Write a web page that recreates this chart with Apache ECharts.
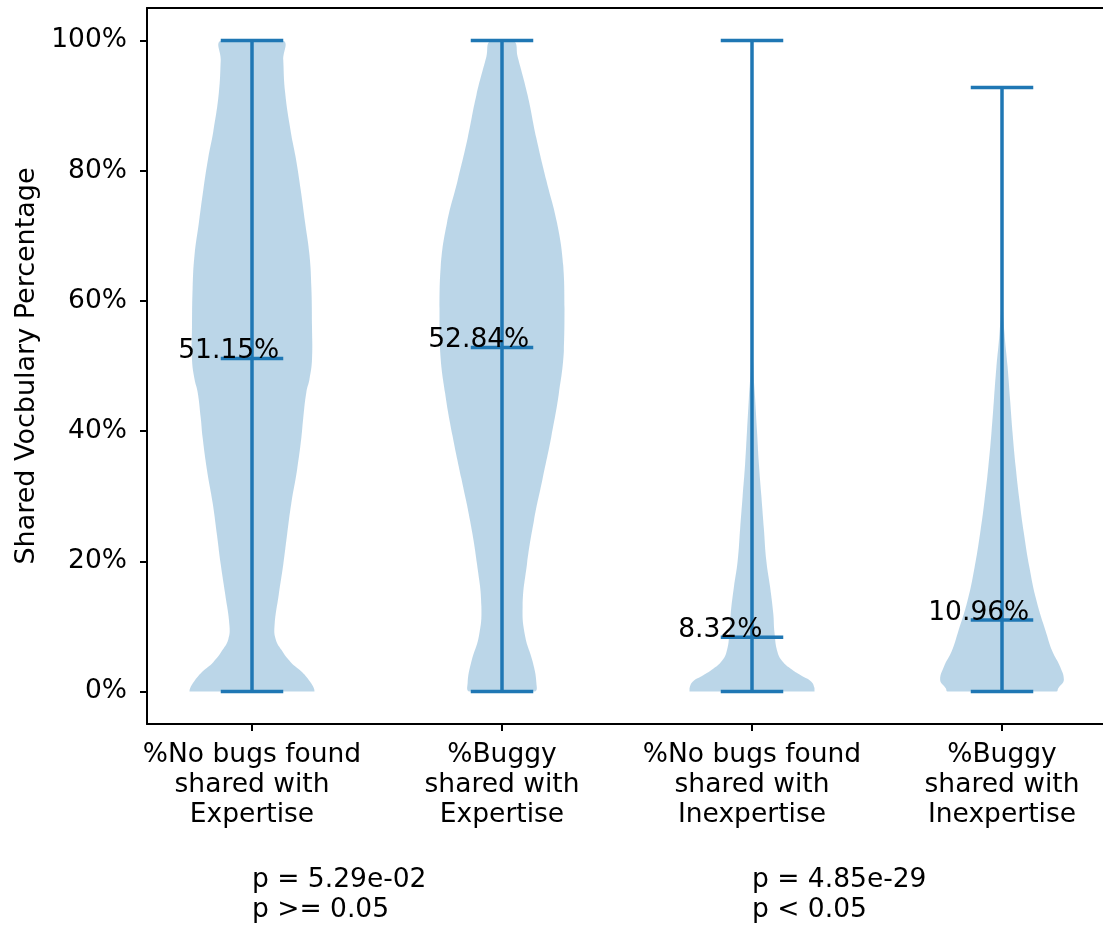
<!DOCTYPE html>
<html>
<head>
<meta charset="utf-8">
<script src="https://cdn.jsdelivr.net/npm/echarts@6/dist/echarts.min.js"></script>
<style>html,body{margin:0;padding:0;background:#fff;overflow:hidden}#c{width:1103px;height:926px;overflow:hidden}</style>
</head>
<body>
<div id="c"></div>
<script>
// ---- data ----
const categories = ['%No bugs found\nshared with\nExpertise', '%Buggy\nshared with\nExpertise', '%No bugs found\nshared with\nInexpertise', '%Buggy\nshared with\nInexpertise'];
const positions = [1, 2, 3, 4];
const mins = [0, 0, 0, 0];
const maxs = [100, 100, 100, 92.8];
const medians = [51.15, 52.84, 8.32, 10.96];
const medianLabels = ['51.15%', '52.84%', '8.32%', '10.96%'];
const yTicks = [0, 20, 40, 60, 80, 100];
const pTexts = ['p = 5.29e-02\np >= 0.05', 'p = 4.85e-29\np < 0.05'];
const pPositions = [1, 3];

// violin profiles: level (%) and relative half-width (1 = widest)
const v1Levels = [0, 0.5, 1.5, 3, 4.5, 6.4, 8, 10, 15, 19.5, 24, 29, 34, 39, 42, 46, 48, 51, 56, 62, 67, 72, 77, 82, 86, 92, 97, 100];
const v1Widths = [1.0, 0.99, 0.93, 0.80, 0.62, 0.47, 0.38, 0.36, 0.43, 0.50, 0.56, 0.63, 0.72, 0.79, 0.82, 0.87, 0.92, 0.96, 0.96, 0.95, 0.92, 0.85, 0.78, 0.70, 0.62, 0.53, 0.50, 0.49];
const v2Levels = [0, 1.3, 4.6, 8.5, 13.1, 19.6, 26.2, 32.7, 39.2, 45.8, 52.3, 58.9, 65.4, 72, 78.5, 85, 91.6, 97.5, 100];
const v2Widths = [0.52, 0.55, 0.49, 0.37, 0.33, 0.40, 0.51, 0.65, 0.79, 0.91, 0.99, 1.0, 0.98, 0.88, 0.71, 0.55, 0.41, 0.25, 0.18];
const v3Levels = [0, 0.5, 1.5, 2.5, 3.5, 4.5, 6, 9, 12, 16, 20, 25, 30, 35, 40, 45, 50, 60, 80, 100];
const v3Widths = [1.0, 1.0, 0.95, 0.78, 0.62, 0.50, 0.41, 0.36, 0.34, 0.29, 0.23, 0.19, 0.15, 0.11, 0.08, 0.05, 0.02, 0.008, 0.005, 0.005];
const v4Levels = [0, 0.5, 1.8, 3.8, 6.3, 8.9, 14, 19, 24.3, 29.3, 34.4, 39.6, 44.7, 49.8, 55, 60, 70, 80, 92.8];
const v4Widths = [0.87, 0.90, 0.99, 0.93, 0.80, 0.71, 0.55, 0.44, 0.35, 0.28, 0.22, 0.17, 0.13, 0.09, 0.04, 0.012, 0.006, 0.005, 0.005];
const profiles = [[v1Levels, v1Widths], [v2Levels, v2Widths], [v3Levels, v3Widths], [v4Levels, v4Widths]];

const HALF = 0.25;   // max half-width in x units
const CAP = 0.125;   // cap half-length
const BLUE = '#1f77b4';
const FONT = 'DejaVu Sans';
const FS = 26.5;

const chart = echarts.init(document.getElementById('c'), null, {renderer: 'canvas', width: 1103, height: 926});

function renderViolin(params, api) {
  const i = params.dataIndex;
  const pos = api.value(0);
  const lv = profiles[i][0], wd = profiles[i][1];
  const right = [], left = [];
  for (let k = 0; k < lv.length; k++) {
    right.push(api.coord([pos + wd[k] * HALF, lv[k]]));
    left.push(api.coord([pos - wd[k] * HALF, lv[k]]));
  }
  const pts = right.concat(left.reverse());
  let x0 = Infinity, y0 = Infinity, x1 = -Infinity, y1 = -Infinity;
  pts.forEach(p => { x0 = Math.min(x0, p[0]); y0 = Math.min(y0, p[1]); x1 = Math.max(x1, p[0]); y1 = Math.max(y1, p[1]); });
  const cTop = api.coord([pos, api.value(2)]);
  const cBot = api.coord([pos, api.value(1)]);
  const med = api.coord([pos, api.value(3)]);
  const capL = api.coord([pos - CAP, 0])[0];
  const capR = api.coord([pos + CAP, 0])[0];
  const lbl = api.coord([pos - 0.295, api.value(3)]);
  const ls = {stroke: BLUE, lineWidth: 3.5};
  return {
    type: 'group',
    children: [
      {type: 'polygon', shape: {points: pts, smooth: 0.45, smoothConstraint: [[x0, y0], [x1, y1]]}, style: {fill: 'rgba(31,119,180,0.3)'}},
      {type: 'line', shape: {x1: cTop[0], y1: cTop[1], x2: cBot[0], y2: cBot[1]}, style: ls},
      {type: 'line', shape: {x1: capL, y1: cTop[1], x2: capR, y2: cTop[1]}, style: ls},
      {type: 'line', shape: {x1: capL, y1: cBot[1], x2: capR, y2: cBot[1]}, style: ls},
      {type: 'line', shape: {x1: capL, y1: med[1], x2: capR, y2: med[1]}, style: ls},
      {type: 'text', x: lbl[0], y: lbl[1] + 6, style: {text: medianLabels[i], fill: '#000', font: FS + 'px ' + FONT, align: 'left', verticalAlign: 'bottom'}}
    ]
  };
}

const data = positions.map((p, i) => [p, mins[i], maxs[i], medians[i]]);

chart.setOption({
  animation: false,
  grid: {left: 147, top: 8, right: -14, bottom: 202, show: false, outerBoundsMode: 'none', containLabel: false},
  xAxis: [{
    type: 'value', min: 0.58, max: 4.46,
    splitLine: {show: false},
    axisLine: {show: true, onZero: false, lineStyle: {color: '#000', width: 2}},
    axisTick: {show: true, length: 7, lineStyle: {color: '#000', width: 2}, customValues: positions},
    axisLabel: {customValues: positions, formatter: v => categories[Math.round(v) - 1], color: '#000', fontFamily: FONT, fontSize: FS, lineHeight: 30, margin: 16, align: 'center'}
  }, {
    type: 'value', min: 0.58, max: 4.46, position: 'top',
    splitLine: {show: false}, axisTick: {show: false}, axisLabel: {show: false},
    axisLine: {show: true, onZero: false, lineStyle: {color: '#000', width: 2}}
  }],
  yAxis: {
    type: 'value', min: -5, max: 105,
    name: 'Shared Vocbulary Percentage', nameLocation: 'middle', nameGap: 106,
    nameTextStyle: {color: '#000', fontFamily: FONT, fontSize: 27},
    splitLine: {show: false},
    axisLine: {show: true, onZero: false, lineStyle: {color: '#000', width: 2}},
    axisTick: {show: true, length: 7, lineStyle: {color: '#000', width: 2}, customValues: yTicks},
    axisLabel: {customValues: yTicks, formatter: v => v + '%', color: '#000', fontFamily: FONT, fontSize: FS, margin: 20}
  },
  series: [{
    type: 'custom', renderItem: renderViolin, data: data, clip: false,
    xAxisIndex: 0, yAxisIndex: 0,
    encode: {x: 0, y: [1, 2, 3]}
  }]
});

const graphics = pTexts.map((t, i) => {
  const x = chart.convertToPixel({xAxisIndex: 0}, pPositions[i]);
  return {type: 'text', x: x, y: 865, style: {text: t, fill: '#000', font: FS + 'px ' + FONT, lineHeight: 30, align: 'left', verticalAlign: 'top'}};
});
chart.setOption({graphic: graphics});
</script>
</body>
</html>
